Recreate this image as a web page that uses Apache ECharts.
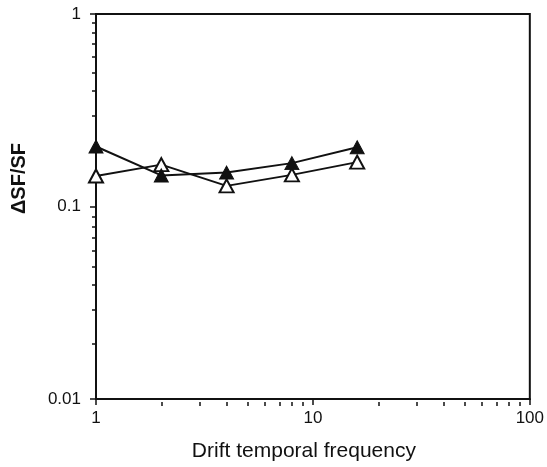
<!DOCTYPE html>
<html>
<head>
<meta charset="utf-8">
<script src="https://cdn.jsdelivr.net/npm/echarts@6/dist/echarts.min.js"></script>
<style>
  html, body { margin: 0; padding: 0; background: #fff; }
  #chart { width: 547px; height: 467px; }
</style>
</head>
<body>
<div id="chart"></div>
<script>
/** drift temporal frequencies */
const freqs = [1, 2, 4, 8, 16];
/** filled triangles */
const filledValues = [0.205, 0.145, 0.15, 0.168, 0.203];
/** open triangles */
const openValues = [0.144, 0.165, 0.128, 0.146, 0.17];
/** minor tick positions (data space) */
const xMinor = [2, 3, 4, 5, 6, 7, 8, 9, 20, 30, 40, 50, 60, 70, 80, 90];
const yMinor = [0.02, 0.03, 0.04, 0.05, 0.06, 0.07, 0.08, 0.09, 0.2, 0.3, 0.4, 0.5, 0.6, 0.7, 0.8, 0.9];

const font = "'Liberation Sans', Arial, sans-serif";
const black = "#111";

const chart = echarts.init(document.getElementById("chart"), null, { renderer: "canvas" });

const gridBox = { left: 96, right: 17, top: 14, bottom: 65 };

/** overlay value axis in log10 space, only used to draw minor ticks */
const minorAxis = (min, max, values, position) => ({
  type: "value",
  gridIndex: 1,
  position,
  min,
  max,
  axisLine: { show: false, onZero: false },
  axisLabel: { show: false },
  splitLine: { show: false },
  axisTick: {
    show: true,
    inside: false,
    length: 4,
    lineStyle: { color: black, width: 1.5 },
    customValues: values.map((v) => Math.log10(v)),
  },
});

const option = {
  animation: false,
  grid: [
    { ...gridBox, show: true, borderColor: black, borderWidth: 2 },
    { ...gridBox },
  ],
  xAxis: [
    {
      type: "log",
      gridIndex: 0,
      logBase: 10,
      min: 1,
      max: 100,
      position: "bottom",
      axisLine: { onZero: false, lineStyle: { color: black, width: 2 } },
      axisTick: { length: 6, lineStyle: { color: black, width: 1.5 } },
      splitLine: { show: false },
      axisLabel: { color: black, fontSize: 17, fontFamily: font, margin: 11 },
      name: "Drift temporal frequency",
      nameLocation: "middle",
      nameGap: 42,
      nameTextStyle: {
        color: black,
        fontSize: 21,
        fontFamily: font,
        padding: [0, 18, 0, 0],
      },
    },
    minorAxis(0, 2, xMinor, "bottom"),
  ],
  yAxis: [
    {
      type: "log",
      gridIndex: 0,
      logBase: 10,
      min: 0.01,
      max: 1,
      position: "left",
      axisLine: { onZero: false, lineStyle: { color: black, width: 2 } },
      axisTick: { length: 6, lineStyle: { color: black, width: 1.5 } },
      splitLine: { show: false },
      axisLabel: { color: black, fontSize: 17, fontFamily: font, margin: 15 },
      name: "\u0394SF/SF",
      nameLocation: "middle",
      nameGap: 67,
      nameRotate: 90,
      nameTextStyle: {
        color: black,
        fontSize: 20,
        fontWeight: "bold",
        fontFamily: font,
        padding: [0, 0, 0, 56],
      },
    },
    minorAxis(-2, 0, yMinor, "left"),
  ],
  series: [
    {
      type: "line",
      xAxisIndex: 0,
      yAxisIndex: 0,
      data: freqs.map((f, i) => [f, openValues[i]]),
      symbol: "triangle",
      symbolSize: [14, 13],
      itemStyle: { color: "#fff", borderColor: black, borderWidth: 2 },
      lineStyle: { color: black, width: 2 },
      z: 3,
    },
    {
      type: "line",
      xAxisIndex: 0,
      yAxisIndex: 0,
      data: freqs.map((f, i) => [f, filledValues[i]]),
      symbol: "triangle",
      symbolSize: [14, 13],
      itemStyle: { color: black, borderColor: black, borderWidth: 1 },
      lineStyle: { color: black, width: 2 },
      z: 4,
    },
  ],
};

chart.setOption(option);
</script>
</body>
</html>
